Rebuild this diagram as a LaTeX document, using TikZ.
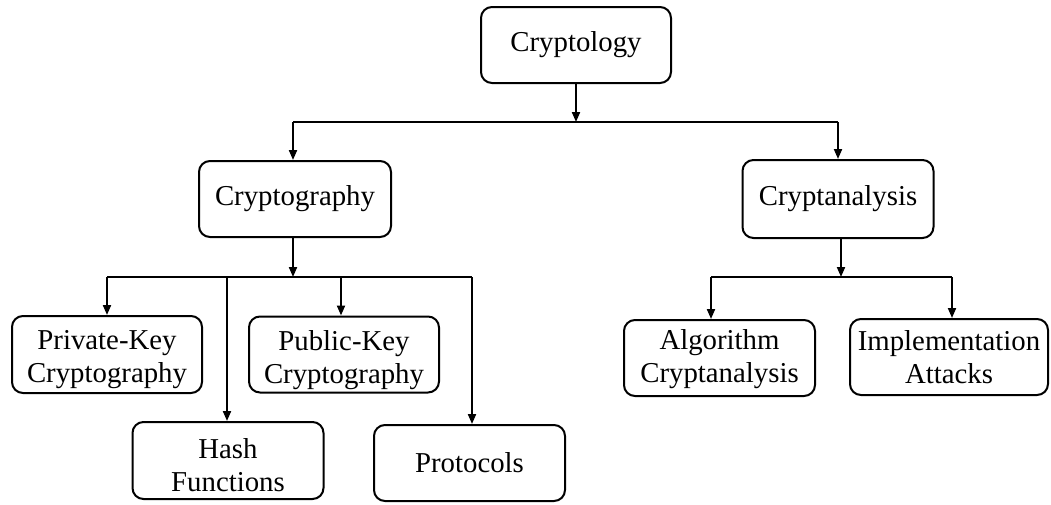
\documentclass[tikz,border=0pt]{standalone}
\usepackage{fontspec}
\setmainfont{Liberation Serif}
\usetikzlibrary{arrows.meta}
\newcommand\twolines[4]{\parbox[c][#1][t]{190pt}{\centering\fontsize{28.8}{33}\selectfont\rule{0pt}{#2}#3\\#4}}
\begin{document}
\begin{tikzpicture}[x=1pt,y=-1pt,
  box/.style={draw,line width=2pt,rounded corners=11pt,align=center,inner sep=0pt,
    minimum width=190pt,minimum height=76pt,font=\fontsize{28.8}{33}\selectfont},
  conn/.style={line width=2pt},
  arr/.style={line width=2pt,-{Triangle[length=10pt,width=8pt]}}]
\useasboundingbox (0,0) rectangle (1051,504);
\node[box] (ology) at (576,45) {Cryptology};
\node[box,minimum width=192pt] (ography) at (295,199) {Cryptography};
\node[box,minimum width=191pt,minimum height=78pt] (analysis) at (838,199) {Cryptanalysis};
\node[box] (priv) at (107,354.5) {\twolines{77pt}{33pt}{Private-Key}{Cryptography}};
\node[box] (pub) at (344,354.5) {\twolines{75pt}{33pt}{Public-Key}{Cryptography}};
\node[box,minimum width=191pt] (hash) at (228,460.5) {\twolines{77pt}{36pt}{Hash}{Functions}};
\node[box,minimum width=191pt] (proto) at (469.5,463) {Protocols};
\node[box,minimum width=191pt] (algo) at (719.5,358) {\twolines{74pt}{28pt}{Algorithm}{Cryptanalysis}};
\node[box,minimum width=198pt] (impl) at (949,357) {\twolines{74pt}{30pt}{Implementation}{Attacks}};
% top level
\coordinate (j1) at (576,122);
\coordinate (j1l) at (293,122);
\coordinate (j1r) at (838,122);
\draw[arr] (ology.south) -- (j1);
\draw[conn] (j1l) -- (j1r);
\draw[arr] (j1l) -- (j1l |- ography.north);
\draw[arr] (j1r) -- (analysis.north);
% cryptography children
\coordinate (j2) at (293,277);
\coordinate (j2a) at (107,277);
\coordinate (j2b) at (227,277);
\coordinate (j2c) at (341,277);
\coordinate (j2d) at (472,277);
\draw[arr] (j2 |- ography.south) -- (j2);
\draw[conn] (j2a) -- (j2d);
\draw[arr] (j2a) -- (priv.north);
\draw[arr] (j2b) -- (j2b |- hash.north);
\draw[arr] (j2c) -- (j2c |- pub.north);
\draw[arr] (j2d) -- (j2d |- proto.north);
% cryptanalysis children
\coordinate (j3) at (841,277);
\coordinate (j3a) at (711,277);
\coordinate (j3b) at (952,277);
\draw[arr] (j3 |- analysis.south) -- (j3);
\draw[conn] (j3a) -- (j3b);
\draw[arr] (j3a) -- (j3a |- algo.north);
\draw[arr] (j3b) -- (j3b |- impl.north);
\end{tikzpicture}
\end{document}
